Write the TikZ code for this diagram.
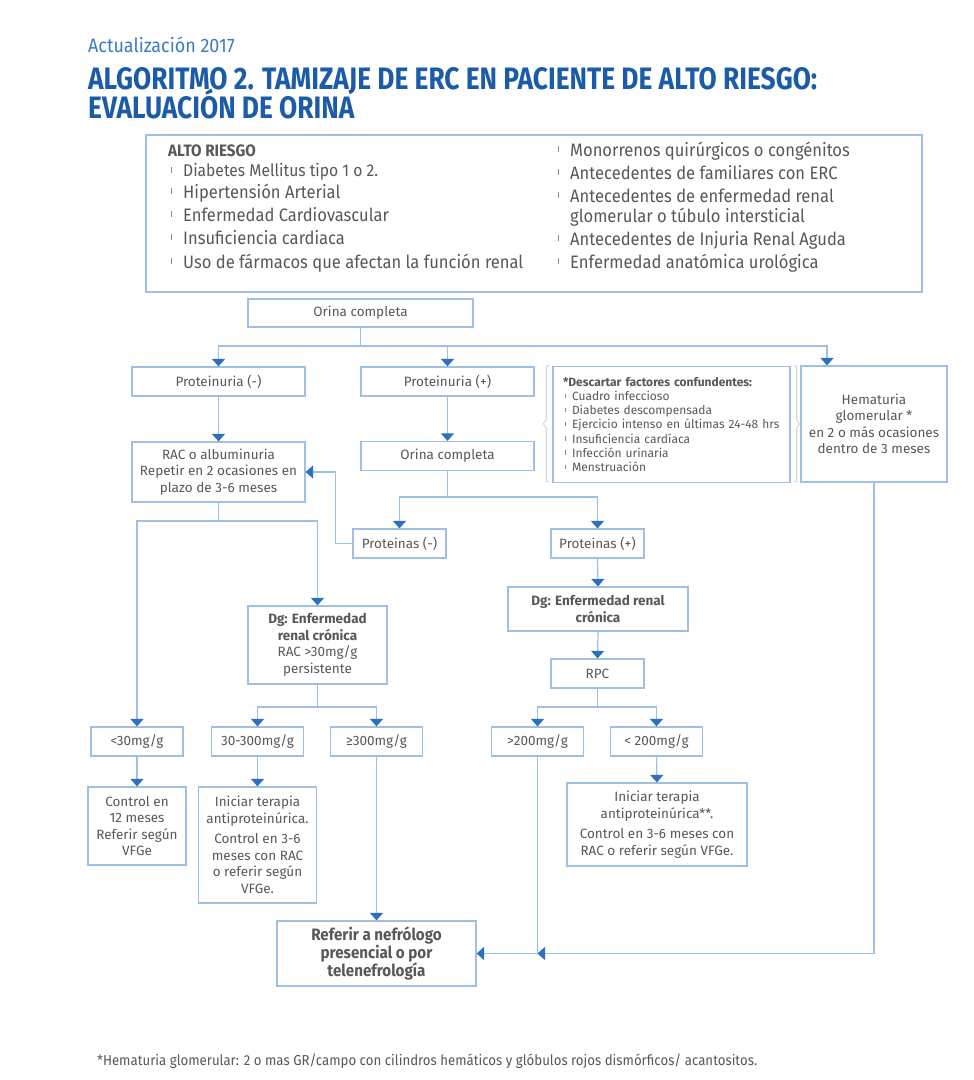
\documentclass[tikz,border=0pt]{standalone}
\usepackage{fontspec}
\setmainfont{Fira Sans}
\newfontfamily\estrecha[FakeStretch=0.92]{Fira Sans}
\newfontfamily\titular[FakeStretch=0.85]{Fira Sans}
\usetikzlibrary{arrows.meta}

\definecolor{azul}{HTML}{1B5CA8}
\definecolor{azulclaro}{HTML}{3D7CC0}
\definecolor{borde}{HTML}{9DC0E3}
\definecolor{punta}{HTML}{2C71BE}
\definecolor{texto}{HTML}{585858}
\definecolor{gris}{HTML}{D2D2D2}

\newcommand\vin{\makebox[13pt][l]{\hspace{1pt}\textcolor{texto!70}{\rule[0.2em]{0.9pt}{0.34em}}}}
\newcommand\vinb{\makebox[9pt][l]{\hspace{2pt}\textcolor{texto!70}{\rule[0.22em]{0.8pt}{0.36em}}}}

\tikzset{
	caja/.style={draw=borde, line width=1.2pt, fill=white, text=texto, align=center, inner sep=0pt, font=\fontsize{13.5}{16.5}\selectfont},
	linea/.style={draw=borde, line width=1.2pt},
	flecha/.style={linea, -{Triangle[width=13pt,length=7.5pt,color=punta]}},
	corchete/.style={draw=gris, line width=0.9pt},
	riesgo/.style={anchor=base west, inner sep=0pt, text=texto, font=\estrecha\fontsize{18}{22}\selectfont},
}

\begin{document}
\begin{tikzpicture}[x=1pt, y=-1pt]
	\useasboundingbox[fill=white] (0,0) rectangle (974,1080);
	% encabezado
	\node[anchor=base west, inner sep=0pt, text=azulclaro, font=\estrecha\fontsize{19.5}{19.5}\selectfont] (actualizacion) at (88,52) {Actualización 2017};
	\node[anchor=base west, inner sep=0pt, text=azul, font=\titular\bfseries\fontsize{31}{31}\selectfont] (titulo1) at (88,89) {ALGORITMO 2. TAMIZAJE DE ERC EN PACIENTE DE ALTO RIESGO:};
	\node[anchor=base west, inner sep=0pt, text=azul, font=\titular\bfseries\fontsize{31}{31}\selectfont] (titulo2) at (88,118) {EVALUACIÓN DE ORINA};

	% factores de alto riesgo
	\node[caja, minimum width=776pt, minimum height=157pt] (altoriesgo) at (534,213.5) {};
	\node[riesgo, font=\estrecha\bfseries\fontsize{16.5}{16}\selectfont] (titriesgo) at (168,156) {ALTO RIESGO};
	\node[riesgo, font=\estrecha\fontsize{17}{16}\selectfont] (dm) at (170,176) {\vin Diabetes Mellitus tipo 1 o 2.};
	\node[riesgo] (hta) at (170,198) {\vin Hipertensión Arterial};
	\node[riesgo] (ecv) at (170,221) {\vin Enfermedad Cardiovascular};
	\node[riesgo] (ic) at (170,244) {\vin Insuficiencia cardiaca};
	\node[riesgo] (farmacos) at (170,268) {\vin Uso de fármacos que afectan la función renal};
	\node[riesgo] (monorreno) at (557,156) {\vin Monorrenos quirúrgicos o congénitos};
	\node[riesgo] (familiares) at (557,179) {\vin Antecedentes de familiares con ERC};
	\node[riesgo] (glomerular) at (557,202) {\vin Antecedentes de enfermedad renal};
	\node[riesgo] (glomerular2) at (570,222) {glomerular o túbulo intersticial};
	\node[riesgo] (ira) at (557,245) {\vin Antecedentes de Injuria Renal Aguda};
	\node[riesgo] (urologica) at (557,268) {\vin Enfermedad anatómica urológica};

	% flujo
	\node[caja, minimum width=225pt, minimum height=28pt] (orina1) at (360.5,313) {Orina completa};
	\node[caja, minimum width=173pt, minimum height=29pt] (protneg) at (218.5,381.5) {Proteinuria (-)};
	\node[caja, minimum width=173pt, minimum height=29pt] (protpos) at (447.5,381.5) {Proteinuria (+)};
	\node[caja, align=left, text width=217pt, inner xsep=10pt, minimum height=116pt, font=\fontsize{12}{14.2}\selectfont] (descartar) at (671.5,424.5) {\textbf{*Descartar factores confundentes:}\\
		\vinb Cuadro infeccioso\\
		\vinb Diabetes descompensada\\
		\vinb Ejercicio intenso en últimas 24-48 hrs\\
		\vinb Insuficiencia cardíaca\\
		\vinb Infección urinaria\\
		\vinb Menstruación};
	\node[caja, minimum width=146pt, minimum height=116pt] (hematuria) at (874,424) {Hematuria\\glomerular *\\en 2 o más ocasiones\\dentro de 3 meses};
	\node[caja, minimum width=173pt, minimum height=60pt] (rac) at (218.5,472) {RAC o albuminuria\\Repetir en 2 ocasiones en\\plazo de 3-6 meses};
	\node[caja, minimum width=173pt, minimum height=29pt] (orina2) at (447.5,456) {Orina completa};
	\node[caja, minimum width=93pt, minimum height=29pt] (protinasneg) at (399.5,543.5) {Proteinas (-)};
	\node[caja, minimum width=93pt, minimum height=29pt] (protinaspos) at (597.5,543.5) {Proteinas (+)};
	\node[caja, minimum width=139pt, minimum height=78pt] (dgerc) at (317.5,645) {\textbf{Dg: Enfermedad}\\\textbf{renal crónica}\\RAC >30mg/g\\persistente};
	\node[caja, minimum width=180pt, minimum height=44pt] (dgerc2) at (598,609) {\textbf{Dg: Enfermedad renal}\\\textbf{crónica}};
	\node[caja, minimum width=93pt, minimum height=29pt] (rpc) at (597.5,673.5) {RPC};
	\node[caja, minimum width=92pt, minimum height=29pt] (menos30) at (137,741.5) {<30mg/g};
	\node[caja, minimum width=92pt, minimum height=29pt] (entre30) at (257.5,741.5) {30-300mg/g};
	\node[caja, minimum width=92pt, minimum height=29pt] (mas300) at (376.5,741.5) {≥300mg/g};
	\node[caja, minimum width=92pt, minimum height=29pt] (mas200) at (537.5,741.5) {>200mg/g};
	\node[caja, minimum width=92pt, minimum height=29pt] (menos200) at (656.5,741.5) {< 200mg/g};
	\node[caja, minimum width=98pt, minimum height=78pt] (control12) at (137,826) {Control en\\12 meses\\Referir según\\VFGe};
	\node[caja, minimum width=118pt, minimum height=116pt] (iniciar) at (257.5,845) {Iniciar terapia\\antiproteinúrica.\\[4pt]Control en 3-6\\meses con RAC\\o referir según\\VFGe.};
	\node[caja, minimum width=180pt, minimum height=83pt] (iniciar2) at (657,824.5) {Iniciar terapia\\antiproteinúrica**.\\[4pt]Control en 3-6 meses con\\RAC o referir según VFGe.};
	\node[caja, minimum width=199pt, minimum height=65pt, font=\estrecha\bfseries\fontsize{16.5}{18}\selectfont] (referir) at (376.5,953.5) {Referir a nefrólogo\\presencial o por\\telenefrología};

	% corchetes grises
	\draw[corchete] ([xshift=-3pt]descartar.north west) -- ++(-3,0) -- ++(0,53.5) -- ++(-3,4.5) -- ++(3,4.5) -- ++(0,53.5) -- ++(3,0);
	\draw[corchete] ([xshift=3pt]descartar.north east) -- ++(3,0) -- ++(0,53.5) -- ++(3,4.5) -- ++(-3,4.5) -- ++(0,53.5) -- ++(-3,0);

	% conectores
	\coordinate (r1) at (360.5,346);
	\coordinate (r2) at (447.5,497);
	\coordinate (r3) at (218.5,521);
	\coordinate (r4) at (317.5,707);
	\coordinate (r5) at (597.5,707);
	\draw[linea] (orina1.south) -- (r1);
	\draw[flecha] (r1) -| (protneg.north);
	\draw[flecha] (r1) -| (protpos.north);
	\draw[flecha] (r1) -| ([xshift=-47pt]hematuria.north);
	\draw[flecha] (protneg.south) -- (rac.north);
	\draw[flecha] (protpos.south) -- (orina2.north);
	\draw[linea] (orina2.south) -- (r2);
	\draw[flecha] (r2) -| (protinasneg.north);
	\draw[flecha] (r2) -| (protinaspos.north);
	\draw[flecha] (protinasneg.west) -- ++(-17,0) |- (rac.east);
	\draw[linea] (rac.south) -- (r3);
	\draw[flecha] (r3) -| (menos30.north);
	\draw[flecha] (r3) -| (dgerc.north);
	\draw[linea] (dgerc.south) -- (r4);
	\draw[flecha] (r4) -| (entre30.north);
	\draw[flecha] (r4) -| (mas300.north);
	\draw[flecha] (menos30.south) -- (control12.north);
	\draw[flecha] (entre30.south) -- (iniciar.north);
	\draw[flecha] (mas300.south) -- (referir.north);
	\draw[flecha] (protinaspos.south) -- (dgerc2.north);
	\draw[flecha] (dgerc2.south) -- (rpc.north);
	\draw[linea] (rpc.south) -- (r5);
	\draw[flecha] (r5) -| (mas200.north);
	\draw[flecha] (r5) -| (menos200.north);
	\draw[flecha] (menos200.south) -- (iniciar2.north);
	\draw[flecha] (mas200.south) |- (referir.east);
	\draw[flecha] (hematuria.south) |- (mas200.south |- referir.east);

	% nota al pie
	\node[anchor=base west, inner sep=0pt, text=texto, font=\estrecha\fontsize{14.4}{15}\selectfont] (nota) at (97,1065) {*Hematuria glomerular: 2 o mas GR/campo con cilindros hemáticos y glóbulos rojos dismórficos/ acantositos.};
\end{tikzpicture}
\end{document}
